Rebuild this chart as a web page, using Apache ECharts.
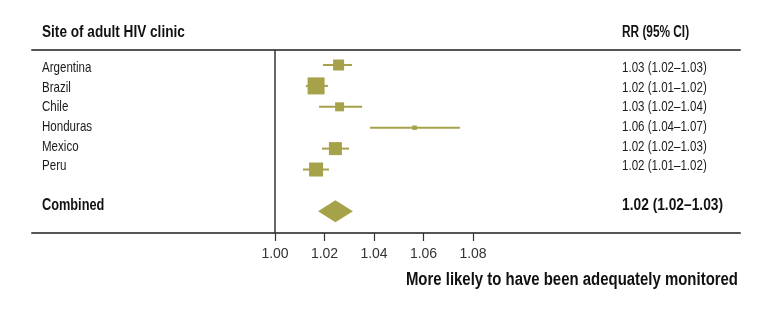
<!DOCTYPE html>
<html>
<head>
<meta charset="utf-8">
<script src="https://cdn.jsdelivr.net/npm/echarts@6/dist/echarts.min.js"></script>
<style>
  html, body { margin: 0; padding: 0; background: #fff; }
  #chart { width: 771px; height: 312px; }
</style>
</head>
<body>
<div id="chart"></div>
<script>
// data
var sites = ['Argentina', 'Brazil', 'Chile', 'Honduras', 'Mexico', 'Peru'];
var rr = [1.0257, 1.0166, 1.0261, 1.0564, 1.0244, 1.0166];
var lower = [1.0194, 1.0125, 1.0178, 1.0384, 1.0190, 1.0113];
var upper = [1.0311, 1.0214, 1.0352, 1.0747, 1.0299, 1.0218];
var weight = [11, 17, 9, 4.5, 13, 14];
var rrText = ['1.03 (1.02–1.03)', '1.02 (1.01–1.02)', '1.03 (1.02–1.04)', '1.06 (1.04–1.07)', '1.02 (1.02–1.03)', '1.02 (1.01–1.02)'];
var combinedLabel = 'Combined';
var combinedRR = [1.0244, 1.0174, 1.0315]; // estimate, lower, upper
var combinedText = '1.02 (1.02–1.03)';
var xTicks = [1.00, 1.02, 1.04, 1.06, 1.08];

var OLIVE = '#a5a24a';
var FONT = "'Liberation Sans', Arial, sans-serif";
// scale: 1.00 sits at x=275, 2475 px per unit, grid 32..740
var X_MIN = 1 - 243 / 2475;
var X_MAX = X_MIN + 708 / 2475;
// text rows (the table text is a little tighter than the marks)
var ROW_TOP = 68, ROW_STEP = 19.65;

var chartDom = document.getElementById('chart');
var myChart = echarts.init(chartDom);

// condensed look: squeeze regular fonts horizontally
function txt(x, y, text, size, bold, sx, align) {
  return {
    type: 'text', x: x, y: y, scaleX: sx, silent: true,
    style: {
      text: text,
      font: (bold ? 'bold ' : '') + size + 'px ' + FONT,
      fill: bold ? '#111' : '#1a1a1a',
      align: align || 'left',
      verticalAlign: 'middle'
    }
  };
}

var texts = [
  txt(42, 33, 'Site of adult HIV clinic', 16, true, 0.85),
  txt(622, 33, 'RR (95% CI)', 16, true, 0.74),
  txt(738, 280.5, 'More likely to have been adequately monitored', 18, true, 0.83, 'right')
];
sites.forEach(function (s, i) {
  texts.push(txt(42, ROW_TOP + i * ROW_STEP, s, 15, false, 0.77));
  texts.push(txt(622, ROW_TOP + i * ROW_STEP, rrText[i], 15, false, 0.77));
});
texts.push(txt(42, ROW_TOP + 7 * ROW_STEP - 0.5, combinedLabel, 17, true, 0.75));
texts.push(txt(622, ROW_TOP + 7 * ROW_STEP - 0.5, combinedText, 17, true, 0.81));

var option = {
  backgroundColor: '#fff',
  animation: false,
  grid: { left: 32, right: 31, top: 50, height: 183 },
  graphic: texts,
  xAxis: [
    {
      type: 'value', min: X_MIN, max: X_MAX, position: 'bottom',
      splitLine: { show: false },
      axisLine: { show: true, onZero: false, lineStyle: { color: '#555', width: 2 } },
      axisTick: { show: true, customValues: xTicks, length: 8, lineStyle: { color: '#333', width: 1.2 } },
      axisLabel: {
        show: true, customValues: xTicks, margin: 14,
        formatter: function (v) { return v.toFixed(2); },
        fontFamily: FONT, fontSize: 14, color: '#333'
      }
    },
    {
      type: 'value', min: X_MIN, max: X_MAX, position: 'top',
      splitLine: { show: false },
      axisLine: { show: true, onZero: false, lineStyle: { color: '#555', width: 2 } },
      axisTick: { show: false },
      axisLabel: { show: false }
    }
  ],
  yAxis: { type: 'value', inverse: true, min: -0.718, max: 8.038, show: false },
  series: [
    {
      type: 'custom',
      data: sites.map(function (s, i) { return [i, rr[i], lower[i], upper[i], weight[i]]; }),
      renderItem: function (params, api) {
        var y = api.value(0);
        var c = api.coord([api.value(1), y]);
        var lo = api.coord([api.value(2), y]);
        var hi = api.coord([api.value(3), y]);
        var s = api.value(4);
        return {
          type: 'group',
          children: [
            { type: 'line', shape: { x1: lo[0], y1: lo[1], x2: hi[0], y2: hi[1] }, style: { stroke: OLIVE, lineWidth: 2 } },
            { type: 'rect', shape: { x: c[0] - s / 2, y: c[1] - s / 2, width: s, height: s }, style: { fill: OLIVE } }
          ]
        };
      },
      markLine: {
        silent: true,
        symbol: 'none',
        label: { show: false },
        lineStyle: { color: '#333', width: 1.5, type: 'solid' },
        data: [{ xAxis: 1 }]
      }
    },
    {
      type: 'custom',
      data: [[7, combinedRR[0], combinedRR[1], combinedRR[2]]],
      renderItem: function (params, api) {
        var y = api.value(0);
        var c = api.coord([api.value(1), y]);
        var lo = api.coord([api.value(2), y]);
        var hi = api.coord([api.value(3), y]);
        var h = 11;
        return {
          type: 'polygon',
          shape: { points: [[lo[0], c[1]], [c[0], c[1] - h], [hi[0], c[1]], [c[0], c[1] + h]] },
          style: { fill: OLIVE }
        };
      }
    }
  ]
};

option && myChart.setOption(option);
window.addEventListener('resize', function () {
  myChart.resize();
});
</script>
</body>
</html>
